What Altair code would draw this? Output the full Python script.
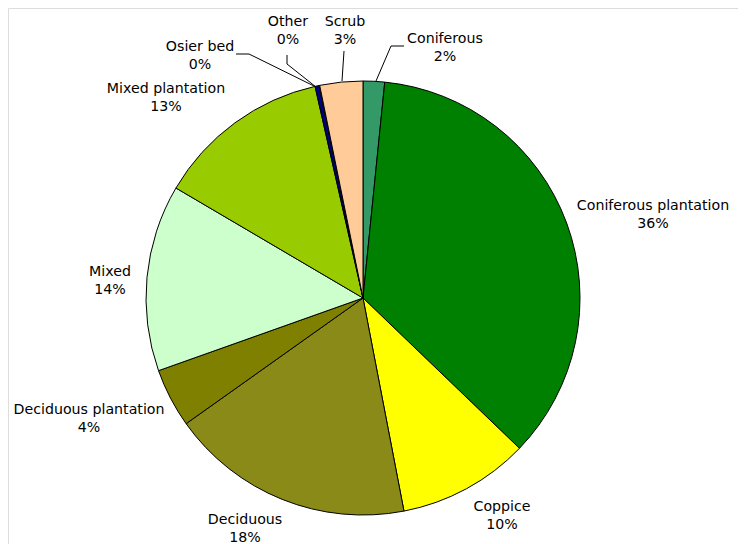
import altair as alt
import pandas as pd

# ---- data ----
categories = ["Coniferous", "Coniferous plantation", "Coppice", "Deciduous",
              "Deciduous plantation", "Mixed", "Mixed plantation", "Osier bed",
              "Other", "Scrub"]
shares = [1.6, 35.6, 9.8, 18.2, 4.4, 13.9, 13.0, 0.3, 0.05, 3.2]
pct_labels = ["2%", "36%", "10%", "18%", "4%", "14%", "13%", "0%", "0%", "3%"]
colors = ["#339966", "#008000", "#FFFF00", "#8A8A18", "#808000", "#CCFFCC",
          "#99CC00", "#000080", "#FFFFFF", "#FFCC99"]

# ---- layout (pixel positions inside the view) ----
cx, cy, radius = 355, 290, 217
label_x = [437, 645, 494, 237, 81, 102, 158, 192, 280, 337]
label_y = [31, 198, 499, 512, 402, 264, 81, 39, 14, 14]
leader_segments = [  # x, y, x2, y2
    (368, 73, 383, 38), (383, 38, 396, 38),
    (334, 73, 336, 43),
    (308, 79, 279, 56), (279, 56, 279, 47),
    (308, 79, 241, 46), (241, 46, 228, 46),
]

df = pd.DataFrame({
    "category": categories,
    "share": shares,
    "idx": list(range(len(categories))),
    "label": [f"{c}\n{p}" for c, p in zip(categories, pct_labels)],
    "lx": label_x,
    "ly": label_y,
})
seg = pd.DataFrame(leader_segments, columns=["x", "y", "x2", "y2"])

pie = alt.Chart(df).mark_arc(radius=radius, stroke="black", strokeWidth=1).encode(
    theta=alt.Theta("share:Q", stack=True),
    order=alt.Order("idx:Q"),
    color=alt.Color("category:N", scale=alt.Scale(domain=categories, range=colors), legend=None),
    x=alt.value(cx),
    y=alt.value(cy),
)

labels = alt.Chart(df).mark_text(
    font="DejaVu Sans", fontSize=14.2, lineBreak="\n", lineHeight=18,
    align="center", baseline="middle", color="#000000"
).encode(
    x=alt.X("lx:Q", scale=None),
    y=alt.Y("ly:Q", scale=None),
    text="label:N",
)

leaders = alt.Chart(seg).mark_rule(color="black", strokeWidth=1).encode(
    x=alt.X("x:Q", scale=None),
    y=alt.Y("y:Q", scale=None),
    x2="x2:Q",
    y2="y2:Q",
)

chart = alt.layer(pie, leaders, labels).properties(
    width=730, height=536, padding=0, autosize=alt.AutoSizeParams(type="none")
).configure_view(strokeWidth=0).configure(background="white")

chart.save("out.html", embed_options={"renderer": "svg", "actions": False})
